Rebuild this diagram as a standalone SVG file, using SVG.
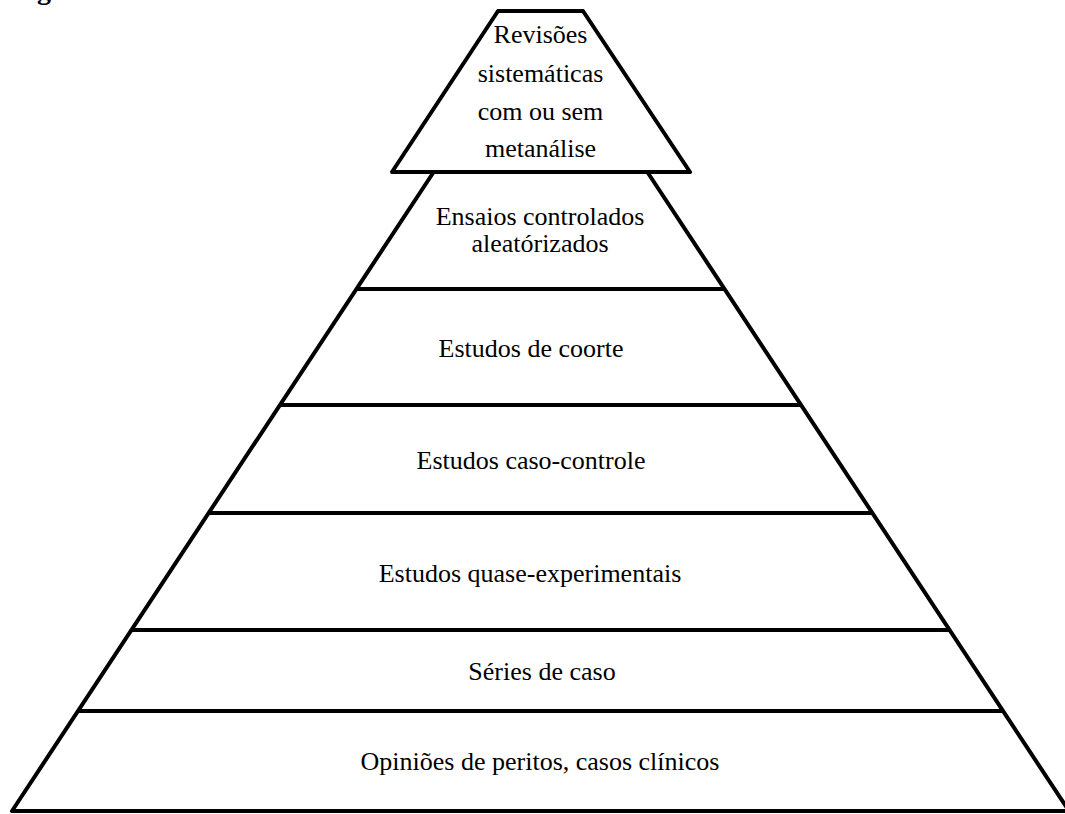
<svg xmlns="http://www.w3.org/2000/svg" width="1065" height="814" viewBox="0 0 1065 814">
<style>
.ln{stroke:#000;stroke-width:4;fill:none;stroke-linejoin:round;stroke-linecap:butt}
text{font-family:'Liberation Serif','Tinos','Times New Roman','DejaVu Serif',serif;fill:#000}
.t{font-size:26px;text-anchor:middle}
.h{font-size:28px;font-weight:bold}
</style>
<rect width="1065" height="814" fill="#fff"/>
<text class="h" x="12" y="-1">Fig</text>
<g id="pyramid-body">
<path class="ln" d="M433,173 L12,811 L1069,811 L648,173"/>
</g>
<g id="connectors">
<line class="ln" x1="356" y1="289" x2="725" y2="289"/>
<line class="ln" x1="280" y1="405" x2="801" y2="405"/>
<line class="ln" x1="208" y1="513" x2="873" y2="513"/>
<line class="ln" x1="131" y1="630" x2="950" y2="630"/>
<line class="ln" x1="77" y1="711" x2="1004" y2="711"/>
</g>
<g id="n1">
<path class="ln" d="M498,11 L583,11 L690,172 L392,172 Z"/>
<text class="t" x="540.5" y="43">Revisões</text>
<text class="t" x="540.5" y="82">sistemáticas</text>
<text class="t" x="540.5" y="120">com ou sem</text>
<text class="t" x="540.5" y="157">metanálise</text>
</g>
<g id="n2">
<text class="t" x="540" y="225">Ensaios controlados</text>
<text class="t" x="540" y="252">aleatórizados</text>
</g>
<g id="n3"><text class="t" x="531" y="357">Estudos de coorte</text></g>
<g id="n4"><text class="t" x="531" y="469">Estudos caso-controle</text></g>
<g id="n5"><text class="t" x="530" y="582">Estudos quase-experimentais</text></g>
<g id="n6"><text class="t" x="542" y="680">Séries de caso</text></g>
<g id="n7"><text class="t" x="540" y="770">Opiniões de peritos, casos clínicos</text></g>
</svg>
